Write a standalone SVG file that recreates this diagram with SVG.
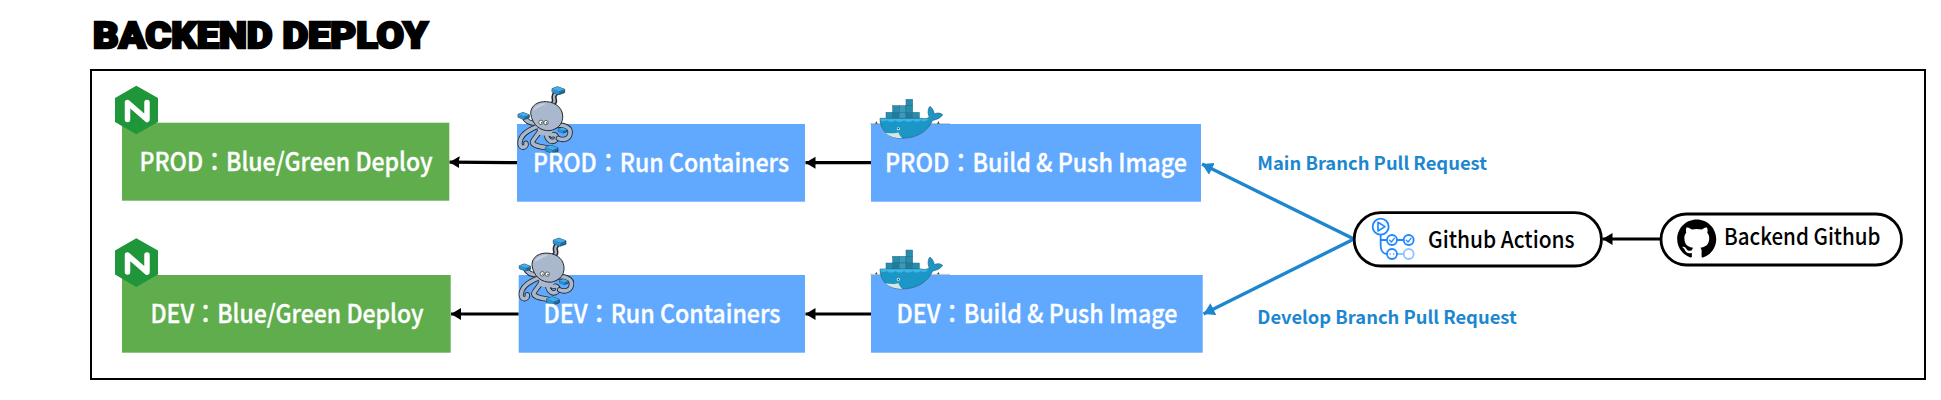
<svg xmlns="http://www.w3.org/2000/svg" xmlns:xlink="http://www.w3.org/1999/xlink" width="1941" height="400" viewBox="0 0 1941 400">
<style>
text{font-family:"Noto Sans CJK KR","Noto Sans CJK JP","Noto Sans",sans-serif}
.green{fill:#60ad4e}
.blue{fill:#60a9ff}
.lbl{font-size:25px;font-weight:500;fill:#fff;stroke:#fff;stroke-width:.35;text-anchor:middle}
.colon{font-weight:700}
.branch{font-size:18px;font-weight:700;fill:#1c87d0}
.pill{fill:#fff;stroke:#000;stroke-width:2.8}
.ptext{font-size:23px;font-weight:500;fill:#000}
.arr{fill:none;stroke:#000;stroke-width:3.2;marker-end:url(#ah)}
.barr{fill:none;stroke:#1c87d0;stroke-width:3.4;marker-end:url(#bh)}
.t{fill:none;stroke-linecap:round;stroke-linejoin:round}
.tout{stroke:#26282c;stroke-width:16}
.tin{stroke:#a9b8cc;stroke-width:11}
</style>
<defs>
<marker id="ah" markerUnits="userSpaceOnUse" markerWidth="12" markerHeight="14" refX="10" refY="6" orient="auto"><path d="M0,0 L10,6 L0,12Z" fill="#000"/></marker>
<marker id="bh" markerUnits="userSpaceOnUse" markerWidth="14" markerHeight="14" refX="11" refY="6.5" orient="auto"><path d="M0,0 L11,6.5 L0,13 Z" fill="#1c87d0"/></marker>
<g id="nginx">
<polygon points="136.3,85.7 158,98 158,122 136.3,134.3 115,122 115,98" fill="#1f9639"/>
<path d="M127.5,119.5 V102.5 L147,119.5 V102.5" fill="none" stroke="#fff" stroke-width="5.5" stroke-linecap="round" stroke-linejoin="round"/>
</g>
<g id="cube"><polygon points="-19,-6 -2,-12 19,-4 19,6 2,12 -19,4" fill="#1d6fa8" stroke="#1b2a38" stroke-width="2"/><polygon points="-19,-6 -2,-12 19,-4 2,2" fill="#45aee8"/><polygon points="-19,-6 2,2 2,12 -19,4" fill="#2a93d6"/></g>
<g id="octopus" transform="translate(500 70) scale(.3333)">
<path class="t tout" d="M160,100 C172,90 150,82 172,66"/><path class="t tin" style="stroke-width:7" d="M160,100 C172,90 150,82 172,66"/>
<path class="t tout" d="M108,160 C90,160 78,155 72,140"/><path class="t tin" d="M108,160 C90,160 78,155 72,140"/>
<path class="t tout" d="M110,170 C85,180 58,195 60,222 C62,238 82,232 78,220"/><path class="t tin" d="M110,170 C85,180 58,195 60,222 C62,238 82,232 78,220"/>
<path class="t tout" d="M122,178 C110,205 85,215 105,225 C120,232 140,232 150,236"/><path class="t tin" d="M122,178 C110,205 85,215 105,225 C120,232 140,232 150,236"/>
<path class="t tout" d="M140,178 C135,205 150,220 165,212 C175,205 170,190 155,195"/><path class="t tin" d="M140,178 C135,205 150,220 165,212 C175,205 170,190 155,195"/>
<path class="t tout" d="M160,170 C185,160 215,170 210,192 C207,208 190,212 175,205"/><path class="t tin" d="M160,170 C185,160 215,170 210,192 C207,208 190,212 175,205"/>
<path d="M108,160 L168,168 L150,198 L118,195Z" fill="#a9b8cc"/>
<path d="M92,130 C92,106 115,93 140,95 C170,97 191,118 188,145 C186,165 170,178 150,182 C122,184 96,165 92,130Z" fill="#a9b8cc" stroke="#26282c" stroke-width="3"/>
<path d="M100,120 C108,104 125,100 140,101 C120,108 108,120 100,120Z" fill="#c5d0de"/>
<circle cx="123" cy="157" r="6.5" fill="#fff" stroke="#26282c" stroke-width="2"/><circle cx="138" cy="158" r="6.5" fill="#fff" stroke="#26282c" stroke-width="2"/>
<circle cx="125" cy="158" r="2" fill="#222"/><circle cx="140" cy="159" r="2" fill="#222"/>
<use xlink:href="#cube" href="#cube" transform="translate(175 62)"/>
<use xlink:href="#cube" href="#cube" transform="translate(71 138) scale(.9)"/>
<use xlink:href="#cube" href="#cube" transform="translate(188 181) scale(.7)"/>
<use xlink:href="#cube" href="#cube" transform="translate(155 238)"/>
</g>
<g id="whale" transform="translate(870 85) scale(.3333)">
<g stroke="#1d6d8a" stroke-width="1.5">
<rect x="108" y="43" width="20" height="20" fill="#2a8cab"/>
<rect x="68" y="62" width="20" height="20" fill="#2a8cab"/><rect x="88" y="62" width="20" height="20" fill="#3a9bb8"/><rect x="108" y="62" width="20" height="20" fill="#2a8cab"/>
<rect x="48" y="82" width="20" height="20" fill="#2a8cab"/><rect x="68" y="82" width="20" height="20" fill="#1f7c9c"/><rect x="88" y="82" width="20" height="20" fill="#3a9bb8"/><rect x="108" y="82" width="20" height="20" fill="#1f7c9c"/><rect x="128" y="82" width="20" height="20" fill="#2a8cab"/>
</g>
<path d="M0,116 H240" stroke="#33454f" stroke-width="1" fill="none"/>
<path d="M15,116 L19,109 L23,116Z M201,116 L205,109 L209,116Z" fill="#33454f"/>
<path d="M30,100 H155 C163,103 172,101 178,96 C172,85 174,70 180,64 C188,70 192,80 193,87 C202,82 212,84 218,89 C212,100 198,104 188,106 C175,135 145,160 95,160 C60,160 30,140 30,100Z" fill="#1b97c7" stroke="#2d5d72" stroke-width="2"/>
<path d="M31,101 H155 C160,104 170,103 176,100 C168,112 160,110 152,106 C144,112 136,112 128,106 C120,112 110,112 102,106 C94,112 84,112 76,106 C68,112 58,112 50,106 C44,110 36,110 31,106Z" fill="#3cb6e8"/>
<path d="M46,143 C62,146 78,146 85,142 C88,150 92,156 97,160 C75,160 58,154 46,143Z" fill="#d9e5df"/>
<circle cx="85" cy="131" r="4.5" fill="#fff"/><circle cx="85" cy="131" r="2.5" fill="#1d3a4a"/>
</g>
<g id="gha" transform="translate(1350 210) scale(.3333)" fill="none" stroke="#2188ff" stroke-width="5.5" stroke-linecap="round" stroke-linejoin="round">
<circle cx="92" cy="50" r="24"/><path d="M84,37 L105,50 L84,63Z" stroke-width="5"/>
<path d="M92,76 V108 C92,122 100,132 111,132"/><path d="M92,90 H111"/><path d="M141,90 H161"/><path d="M141,132 H161" stroke="#8fc4ff"/>
<circle cx="126" cy="90" r="15"/><circle cx="176" cy="90" r="15"/><circle cx="126" cy="132" r="15"/><circle cx="176" cy="132" r="15" stroke="#8fc4ff"/>
<path d="M119,91 L124,96 L133,85" stroke-width="4"/><path d="M169,91 L174,96 L183,85" stroke-width="4"/>
<path d="M120,132 h.1 M131,132 h.1" stroke-width="4"/>
</g>
</defs>

<g id="title"><text x="93" y="48" font-size="36" font-weight="900" textLength="335" lengthAdjust="spacingAndGlyphs" style="font-family:Roboto,Inter,sans-serif;fill:#000;stroke:#000;stroke-width:2.4;stroke-linejoin:miter">BACKEND DEPLOY</text></g>
<g id="frame"><rect x="91" y="70" width="1834" height="309" fill="none" stroke="#000" stroke-width="2"/></g>

<g id="connectors">
<path class="arr" d="M517,162.7 L449.5,162.2"/>
<path class="arr" d="M871,162.7 L805.5,162.7"/>
<path class="arr" d="M518.7,314 L451,314"/>
<path class="arr" d="M871,314 L805.5,314"/>
<path class="barr" d="M1354,239 L1202,164"/>
<path class="barr" d="M1354,239 L1203.5,314"/>
<path class="arr" d="M1661,239 L1602.5,239"/>
</g>

<g id="prod-deploy"><rect class="green" x="122" y="122.7" width="327.3" height="78"/><use xlink:href="#nginx" href="#nginx"/><text class="lbl" x="286" y="171" textLength="293" lengthAdjust="spacingAndGlyphs">PROD：Blue/Green Deploy</text></g>
<g id="dev-deploy"><rect class="green" x="122" y="275" width="328.7" height="77.7"/><use xlink:href="#nginx" href="#nginx" transform="translate(0 152.6)"/><text class="lbl" x="287" y="323" textLength="273" lengthAdjust="spacingAndGlyphs">DEV：Blue/Green Deploy</text></g>
<g id="prod-run"><rect class="blue" x="517" y="124" width="288" height="77.7"/><use xlink:href="#octopus" href="#octopus"/><text class="lbl" x="661" y="172" textLength="256" lengthAdjust="spacingAndGlyphs">PROD：Run Containers</text></g>
<g id="dev-run"><rect class="blue" x="518.7" y="275" width="286.3" height="77.7"/><use xlink:href="#octopus" href="#octopus" transform="translate(1.3 151.5)"/><text class="lbl" x="662" y="323" textLength="237" lengthAdjust="spacingAndGlyphs">DEV：Run Containers</text></g>
<g id="prod-build"><rect class="blue" x="871" y="124" width="330" height="77.7"/><use xlink:href="#whale" href="#whale"/><text class="lbl" x="1036" y="172" textLength="302" lengthAdjust="spacingAndGlyphs">PROD：Build &amp; Push Image</text></g>
<g id="dev-build"><rect class="blue" x="871" y="275" width="331.7" height="77.7"/><use xlink:href="#whale" href="#whale" transform="translate(0 150.7)"/><text class="lbl" x="1037" y="323" textLength="281" lengthAdjust="spacingAndGlyphs">DEV：Build &amp; Push Image</text></g>
<g id="main-label"><text class="branch" x="1257.3" y="170" textLength="229.7" lengthAdjust="spacingAndGlyphs">Main Branch Pull Request</text></g>
<g id="develop-label"><text class="branch" x="1257.3" y="324" textLength="259.4" lengthAdjust="spacingAndGlyphs">Develop Branch Pull Request</text></g>
<g id="github-actions"><rect class="pill" x="1354.2" y="212.7" width="247.2" height="53.3" rx="26.6"/><use xlink:href="#gha" href="#gha"/><text class="ptext" x="1428" y="247.7" textLength="146.6" lengthAdjust="spacingAndGlyphs">Github Actions</text></g>
<g id="backend-github"><rect class="pill" x="1661" y="214" width="240.5" height="51" rx="25.5"/>
<path transform="translate(1677.2 219.5) scale(2.44)" fill="#000" d="M8 0C3.58 0 0 3.58 0 8c0 3.54 2.29 6.53 5.47 7.59.4.07.55-.17.55-.38 0-.19-.01-.82-.01-1.49-2.01.37-2.53-.49-2.69-.94-.09-.23-.48-.94-.82-1.13-.28-.15-.68-.52-.01-.53.63-.01 1.08.58 1.23.82.72 1.21 1.87.87 2.33.66.07-.52.28-.87.51-1.07-1.78-.2-3.64-.89-3.64-3.95 0-.87.31-1.59.82-2.15-.08-.2-.36-1.02.08-2.12 0 0 .67-.21 2.2.82.64-.18 1.32-.27 2-.27.68 0 1.36.09 2 .27 1.53-1.04 2.2-.82 2.2-.82.44 1.1.16 1.92.08 2.12.51.56.82 1.27.82 2.15 0 3.07-1.87 3.75-3.65 3.95.29.25.54.73.54 1.48 0 1.07-.01 1.93-.01 2.2 0 .21.15.46.55.38A8.013 8.013 0 0016 8c0-4.42-3.58-8-8-8z"/>
<text class="ptext" x="1724" y="244.7" textLength="156.4" lengthAdjust="spacingAndGlyphs">Backend Github</text></g>
</svg>
